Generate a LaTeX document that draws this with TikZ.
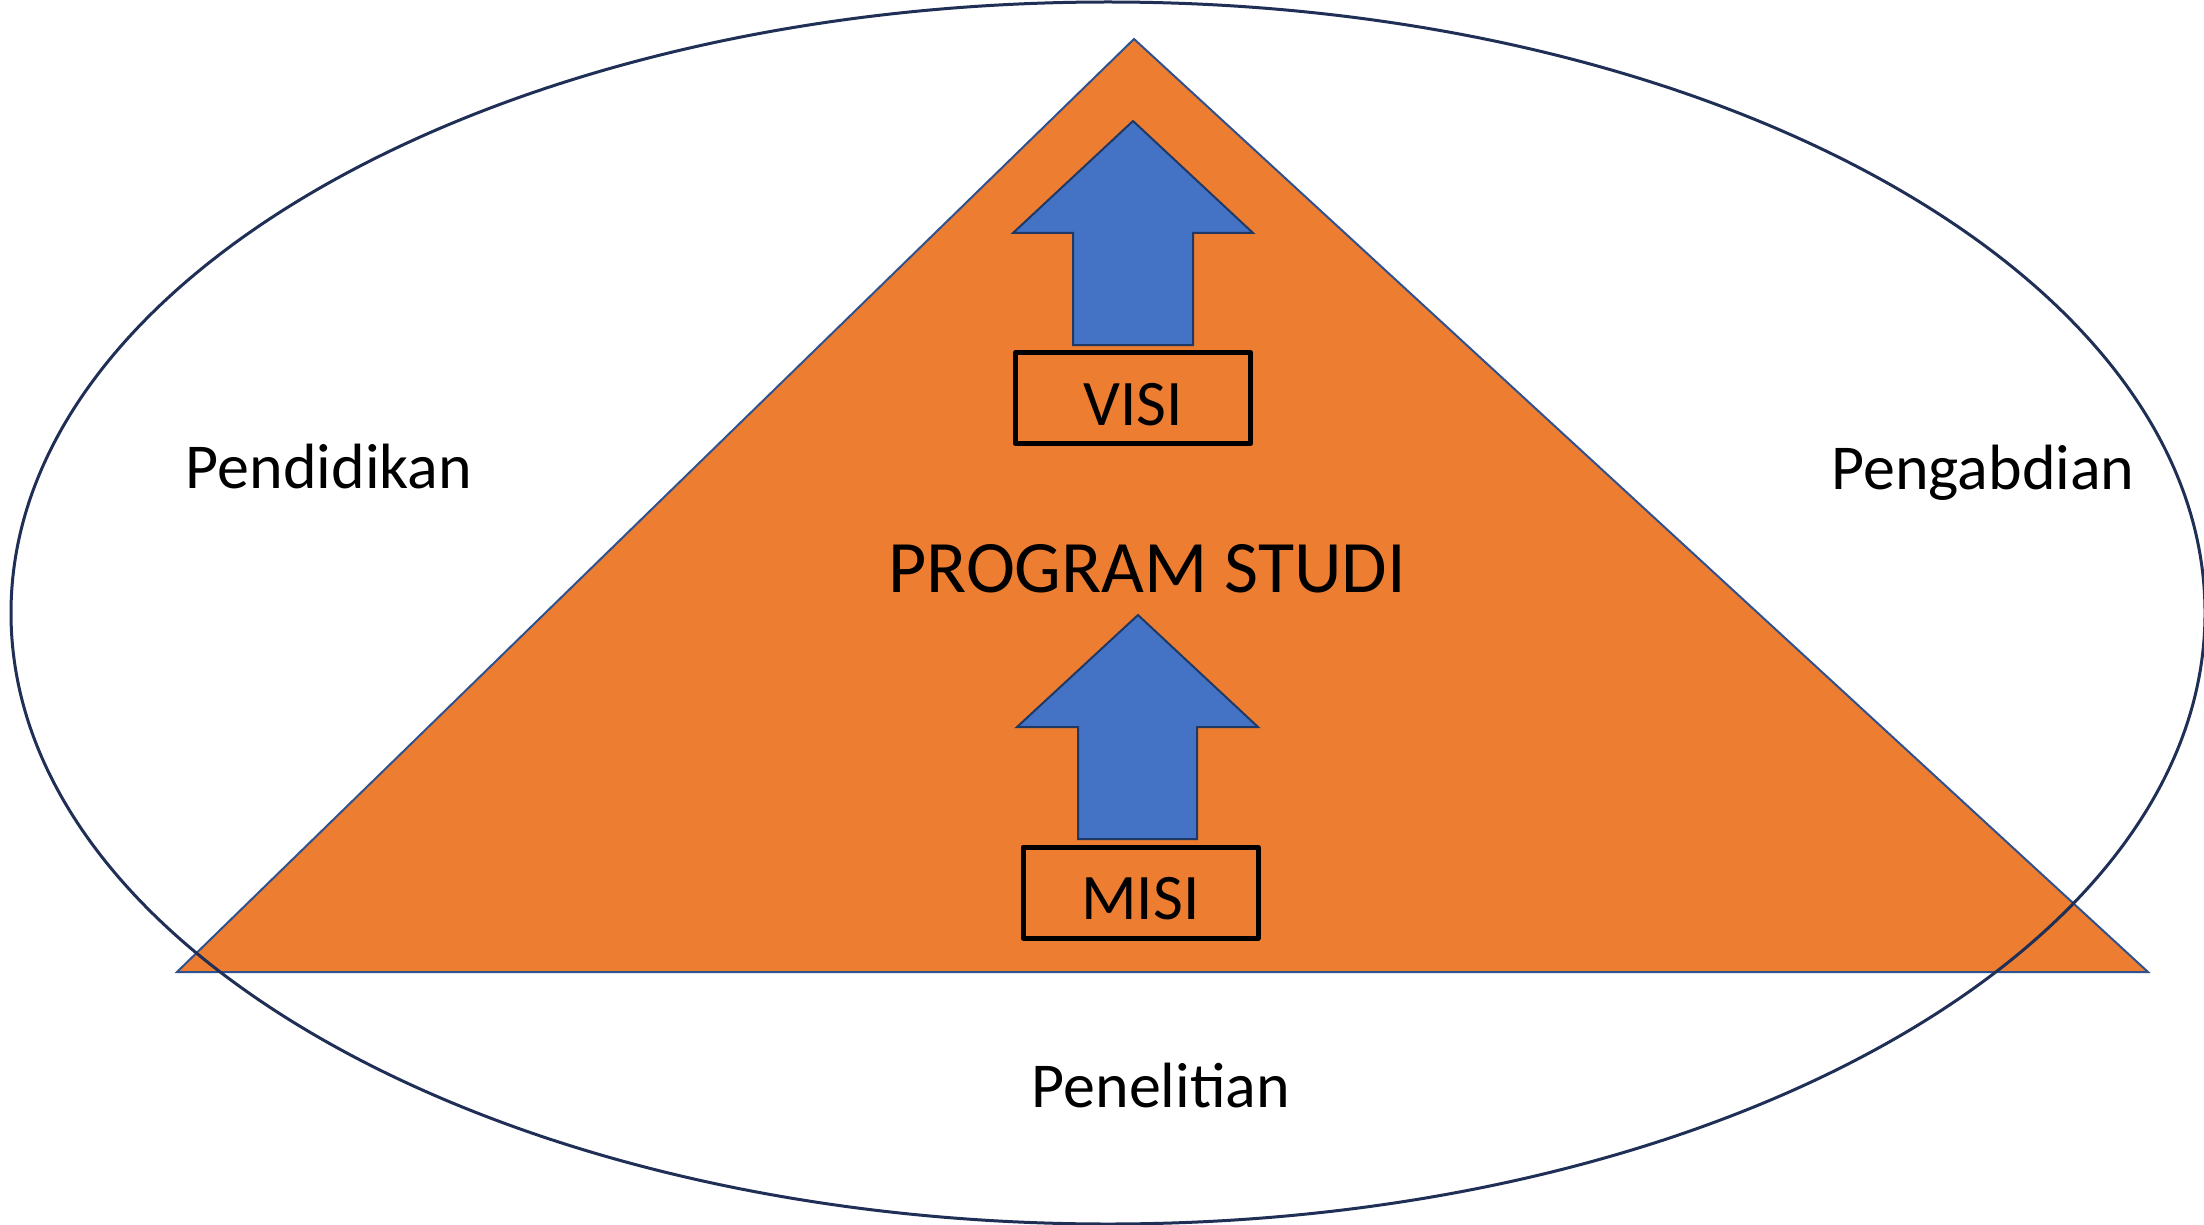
\documentclass[tikz,border=0pt]{standalone}
\usepackage{fontspec}
\setmainfont{Carlito}
\definecolor{orng}{HTML}{ED7D31}
\definecolor{blu}{HTML}{4472C4}
\definecolor{triedge}{HTML}{2F528F}
\definecolor{elledge}{HTML}{1F2F55}
\definecolor{arredge}{HTML}{203864}
\begin{document}
\begin{tikzpicture}[x=0.5pt,y=-0.5pt,
  labeltext/.style={font=\fontsize{32}{38}\selectfont, inner sep=0pt},
  boxnode/.style={draw=black, line width=2.5pt, line join=round, minimum width=117.5pt, minimum height=45.5pt, inner sep=0pt},
  boxtext/.style={inner sep=0pt, font=\fontsize{32.5}{38}\selectfont},
  blockarrow/.style={fill=blu, draw=arredge, line width=1pt, line join=miter}]
\useasboundingbox (0,0) rectangle (2204,1225);
% triangle
\filldraw[fill=orng, draw=triedge, line width=1pt] (1134,39) -- (2148,972) -- (177,972) -- cycle;
% arrows
\path[blockarrow] (1133,121) -- (1253,233) -- (1193,233) -- (1193,345) -- (1073,345) -- (1073,233) -- (1013,233) -- cycle;
\path[blockarrow] (1138,615) -- (1258,727) -- (1197,727) -- (1197,839) -- (1078,839) -- (1078,727) -- (1017,727) -- cycle;
% boxes
\node[boxnode] (visi) at (1133,398) {};
\node[boxtext] (visitext) at (1133,405) {VISI};
\node[boxnode] (misi) at (1140.5,892.5) {};
\node[boxtext] (misitext) at (1140.5,899) {MISI};
% ellipse
\draw[elledge, line width=1.5pt] (1108,613) ellipse [x radius=1097, y radius=611];
% texts
\node[labeltext, font=\fontsize{37}{44}\selectfont] (ps) at (1147,569) {PROGRAM STUDI};
\node[labeltext] (pend) at (329,467) {Pendidikan};
\node[labeltext] (peng) at (1983,473) {Pengabdian};
\node[labeltext] (pene) at (1161,1086) {Penelitian};
\end{tikzpicture}
\end{document}
